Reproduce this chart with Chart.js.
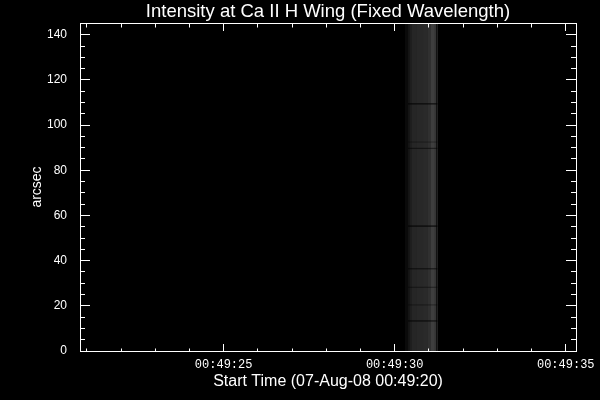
<!DOCTYPE html>
<html lang="en">
<head>
    <meta charset="UTF-8">
    <title>Intensity at Ca II H Wing</title>
    <script src="https://cdn.jsdelivr.net/npm/chart.js"></script>
    <style>
        body {
            margin: 0;
            background-color: #000;
        }
        .chart-container {
            width: 600px;
            height: 400px;
            background: #000;
        }
    </style>
</head>
<body>
    <div class="chart-container">
        <canvas id="intensityChart"></canvas>
    </div>

    <script>
        // time axis in seconds after 00:49:00
        const timeMin = 20.8;
        const timeMax = 35.3;
        const tickSeconds = [25, 30, 35];
        const tickLabels = ["00:49:25", "00:49:30", "00:49:35"];

        // arcsec axis
        const arcMin = 0;
        const arcMax = 145.2;

        // exposure band: column edges (s) and grey level of each column
        const bandEdges = [30.30, 30.39, 30.45, 30.50, 30.65, 30.83, 30.97, 31.06, 31.15, 31.20, 31.25];
        const bandGray = [10, 22, 32, 38, 40, 42, 48, 62, 56, 18];

        // dark horizontal streaks in the band (arcsec) and how dark they are
        const streakArcsec = [109.4, 92.5, 89.7, 55.3, 36.4, 28.2, 20.4, 13.3];
        const streakDepth = [0.8, 0.3, 0.5, 0.85, 0.6, 0.4, 0.35, 0.75];

        Chart.defaults.color = "#fff";
        Chart.defaults.font.family = "'Liberation Sans', Arial, sans-serif";

        const datasets = [];
        const bandEnd = bandEdges[bandEdges.length - 1];

        // streaks first so they are drawn on top
        streakArcsec.forEach((a, i) => {
            datasets.push({
                data: [{ x: bandEdges[1], y: a }, { x: bandEnd, y: a }],
                borderColor: "rgba(0, 0, 0, " + streakDepth[i] + ")",
                borderWidth: 1.2,
                pointRadius: 0,
                fill: false
            });
        });

        // each column runs from its own edge to the band end, right columns on top
        for (let i = bandGray.length - 1; i >= 0; i--) {
            const g = bandGray[i];
            datasets.push({
                data: [{ x: bandEdges[i], y: arcMax }, { x: bandEnd, y: arcMax }],
                borderWidth: 0,
                borderColor: "rgba(0,0,0,0)",
                backgroundColor: "rgb(" + g + "," + g + "," + g + ")",
                pointRadius: 0,
                fill: "origin"
            });
        }

        // extra tick-only axes (IDL style inward ticks on all four sides)
        const tickAxis = (axis, position, min, max, step, len) => ({
            type: "linear",
            axis: axis,
            position: position,
            min: min,
            max: max,
            grid: { display: true, drawOnChartArea: false, drawTicks: true, tickLength: len, tickColor: "#fff", tickWidth: 1, z: 1 },
            border: { display: true, color: "#fff", width: 1, z: 1 },
            ticks: { display: false, stepSize: step, includeBounds: false, autoSkip: false }
        });

        const ctx = document.getElementById("intensityChart").getContext("2d");
        const chart = new Chart(ctx, {
            type: "line",
            data: { datasets: datasets },
            options: {
                responsive: true,
                maintainAspectRatio: false,
                animation: false,
                layout: { padding: { top: 0, right: 24, bottom: 0, left: 0 } },
                plugins: {
                    legend: { display: false },
                    tooltip: { enabled: false },
                    title: {
                        display: true,
                        text: "Intensity at Ca II H Wing (Fixed Wavelength)",
                        color: "#fff",
                        fullSize: false,
                        font: { size: 18.5, weight: "normal", lineHeight: 1.1 },
                        padding: { top: 1.6, bottom: 1.05 }
                    }
                },
                scales: {
                    x: {
                        type: "linear",
                        position: "bottom",
                        min: timeMin,
                        max: timeMax,
                        grid: { display: true, drawOnChartArea: false, drawTicks: true, tickLength: -7, tickColor: "#fff", z: 1 },
                        border: { display: true, color: "#fff", width: 1, z: 1 },
                        ticks: {
                            stepSize: 5,
                            includeBounds: false,
                            autoSkip: false,
                            maxRotation: 0,
                            padding: 14,
                            color: "#fff",
                            font: { family: "'Liberation Mono', monospace", size: 12 },
                            callback: (v) => {
                                const k = tickSeconds.indexOf(v);
                                return k >= 0 ? tickLabels[k] : "";
                            }
                        },
                        title: {
                            display: true,
                            text: "Start Time (07-Aug-08 00:49:20)",
                            color: "#fff",
                            font: { size: 16 },
                            padding: { top: 0, bottom: 9 }
                        },
                        afterFit: (scale) => {
                            scale.height = 49;
                            scale.paddingLeft = 0;
                            scale.paddingRight = 0;
                        }
                    },
                    y: {
                        type: "linear",
                        position: "left",
                        min: arcMin,
                        max: arcMax,
                        grid: { display: true, drawOnChartArea: false, drawTicks: true, tickLength: -10, tickColor: "#fff", z: 1 },
                        border: { display: true, color: "#fff", width: 1, z: 1 },
                        ticks: {
                            stepSize: 20,
                            includeBounds: false,
                            autoSkip: false,
                            padding: 23,
                            color: "#fff",
                            font: { size: 12 }
                        },
                        title: {
                            display: true,
                            text: "arcsec",
                            color: "#fff",
                            font: { size: 14 },
                            padding: { top: 29, bottom: 0 }
                        },
                        afterFit: (scale) => {
                            scale.width = 80;
                            scale.paddingTop = 0;
                            scale.paddingBottom = 0;
                        }
                    },
                    xMinor: tickAxis("x", { y: arcMin }, timeMin, timeMax, 1, -3.5),
                    xTop: tickAxis("x", { y: arcMax }, timeMin, timeMax, 5, 7),
                    xTopMinor: tickAxis("x", { y: arcMax }, timeMin, timeMax, 1, 3.5),
                    yMinor: tickAxis("y", { x: timeMin }, arcMin, arcMax, 5, -5),
                    yRight: tickAxis("y", { x: timeMax }, arcMin, arcMax, 20, 10),
                    yRightMinor: tickAxis("y", { x: timeMax }, arcMin, arcMax, 5, 5)
                }
            }
        });
    </script>
</body>
</html>
